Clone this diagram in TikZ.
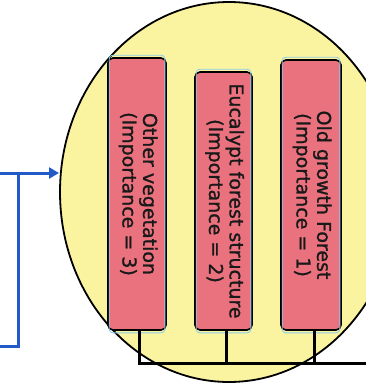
\documentclass[tikz,border=0pt]{standalone}
\usepackage{fontspec}
\usetikzlibrary{arrows.meta,shapes.geometric}
\newfontfamily\boxfont[FakeBold=1.2]{DejaVu Sans}
\definecolor{ovalfill}{RGB}{250,243,160}
\definecolor{boxfill}{RGB}{234,114,126}
\definecolor{edgeblue}{RGB}{140,205,235}
\definecolor{linkblue}{RGB}{34,90,200}
\tikzset{
  criterion/.style={draw=black, line width=1.6pt, fill=boxfill, rounded corners=5pt,
    inner sep=0pt, text=black!90,
    font=\boxfont\fontsize{19}{20.5}\selectfont},
  bus/.style={draw=black, line width=3pt},
  feedback/.style={draw=linkblue, line width=3pt},
}
\newcommand{\vlabel}[2]{\rotatebox{-90}{\begin{tabular}{@{}c@{}}#1\\#2\end{tabular}}}
\begin{document}
\begin{tikzpicture}[x=1pt,y=-1pt]
  \useasboundingbox (0,0) rectangle (366,383);
  \clip (0,0) rectangle (366,383);

  % the grouping oval
  \node[draw=black, line width=1.8pt, fill=ovalfill, ellipse, minimum width=338pt,
        minimum height=380pt, inner sep=0pt] (oval) at (229,192) {};

  % the three criteria
  \node[criterion, minimum width=58pt, minimum height=272pt] (b1) at (137,194)
    {\vlabel{Other vegetation}{(Importance = 3)}};
  \node[criterion, minimum width=57pt, minimum height=258pt] (b2) at (223.5,201)
    {\vlabel{Eucalypt forest structure}{(Importance = 2)}};
  \node[criterion, minimum width=60pt, minimum height=270pt] (b3) at (311,195)
    {\vlabel{Old growth Forest}{(Importance = 1)}};

  % thin light rim inside each box
  \foreach \b in {b1,b2,b3}
    \draw[edgeblue, line width=0.9pt, rounded corners=3.5pt]
      ([xshift=2pt,yshift=-2pt]\b.south west) rectangle ([xshift=-2pt,yshift=2pt]\b.north east);

  % bus joining the boxes
  \coordinate (busR) at (366,363);
  \draw[bus] ([xshift=2pt]b1.south) |- (busR);
  \draw[bus] ([xshift=2.5pt]b2.south) -- ([xshift=2.5pt]b2.south |- busR);
  \draw[bus] ([xshift=3pt]b3.south) -- ([xshift=3pt]b3.south |- busR);

  % feedback bracket into the oval
  \coordinate (fbTop) at (0,173);
  \coordinate (fbJoin) at (18,172);
  \coordinate (fbBot) at (0,346);
  \coordinate (fbTip) at (59,173);
  \draw[feedback, -{Triangle[length=10pt,width=11pt]}] (fbTop) -- (fbTip);
  \draw[feedback] (fbBot) -| (fbJoin);
\end{tikzpicture}
\end{document}
